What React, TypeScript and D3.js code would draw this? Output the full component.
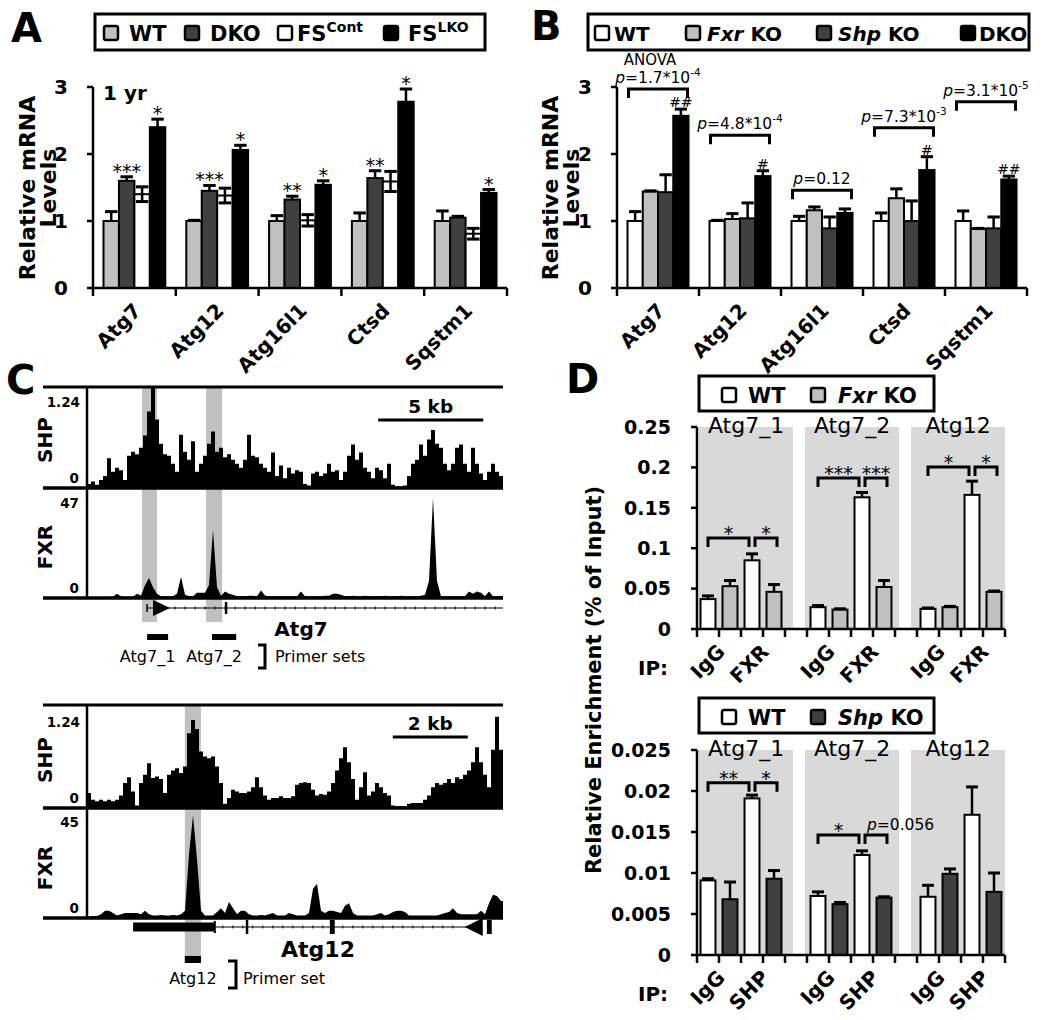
import React from "react";
import * as d3 from "d3";

const FONT = "'DejaVu Sans', Verdana, sans-serif";
const LIGHT = "#c0c0c0";
const DARK = "#404040";
const PANEL_BG = "#d9d9d9";

// ---------------- Panel A ----------------
const genes = ["Atg7", "Atg12", "Atg16l1", "Ctsd", "Sqstm1"];
const abTicks = [0, 1, 2, 3];
const aWT = [1.0, 1.0, 1.0, 1.0, 1.0];
const aWTErr = [0.14, 0.01, 0.08, 0.12, 0.15];
const aDKO = [1.6, 1.45, 1.32, 1.64, 1.05];
const aDKOErr = [0.06, 0.08, 0.05, 0.11, 0.02];
const aFSCont = [1.4, 1.38, 1.01, 1.59, 0.81];
const aFSContErr = [0.11, 0.11, 0.085, 0.15, 0.08];
const aFSLKO = [2.4, 2.06, 1.54, 2.78, 1.42];
const aFSLKOErr = [0.12, 0.07, 0.06, 0.19, 0.05];
const aDKOSig = ["***", "***", "**", "**", ""];
const aFSLKOSig = ["*", "*", "*", "*", "*"];

// ---------------- Panel B ----------------
const bWT = [1.0, 1.0, 1.0, 1.0, 1.0];
const bWTErr = [0.14, 0.01, 0.07, 0.12, 0.15];
const bFxr = [1.44, 1.03, 1.16, 1.34, 0.88];
const bFxrErr = [0.01, 0.08, 0.05, 0.14, 0.01];
const bShp = [1.43, 1.04, 0.89, 1.0, 0.89];
const bShpErr = [0.26, 0.23, 0.17, 0.3, 0.17];
const bDKO = [2.57, 1.67, 1.12, 1.76, 1.62];
const bDKOErr = [0.1, 0.08, 0.06, 0.2, 0.05];
const bDKOSig = ["##", "#", "", "#", "##"];
const bPBase = ["1.7*10", "4.8*10", "0.12", "7.3*10", "3.1*10"];
const bPExp = ["-4", "-4", "", "-3", "-5"];
const bBracket = [2.97, 2.28, 1.46, 2.39, 2.78];

// ---------------- Panel C (coverage, binned) ----------------
const shpAtg7 = [
  0.05, 0.08, 0.04, 0.1, 0.15, 0.37, 0.2, 0.25, 0.22, 0.1,
  0.4, 0.45, 0.42, 0.5, 0.65, 0.95, 1.24, 0.85, 0.55, 0.42,
  0.4, 0.3, 0.2, 0.66, 0.45, 0.35, 0.58, 0.2, 0.3, 0.4,
  0.55, 0.7, 0.45, 0.5, 0.38, 0.42, 0.35, 0.3, 0.25, 0.35,
  0.66, 0.4, 0.38, 0.3, 0.25, 0.2, 0.44, 0.15, 0.28, 0.12,
  0.25, 0.18, 0.22, 0.2, 0.05, 0.03, 0.18, 0.2, 0.15, 0.18,
  0.3, 0.2, 0.22, 0.1, 0.2, 0.4, 0.54, 0.35, 0.44, 0.25,
  0.2, 0.12, 0.25, 0.22, 0.12, 0.3, 0.04, 0.02, 0.02, 0.03,
  0.15, 0.3, 0.35, 0.54, 0.4, 0.6, 0.72, 0.55, 0.5, 0.3,
  0.22, 0.3, 0.5, 0.54, 0.3, 0.2, 0.5, 0.3, 0.18, 0.1,
  0.2, 0.3, 0.2, 0.15,
];
const fxrAtg7 = [
  0.5, 0.5, 0.5, 0.5, 0.5, 0.6, 0.6, 2, 0.8, 0.6,
  0.6, 0.6, 2, 1, 6, 9.4, 5, 2, 0.8, 0.8,
  0.8, 0.8, 2, 10, 1.5, 0.8, 0.8, 2.5, 2.5, 2.5,
  6, 32, 5, 1, 3, 2, 1.5, 0.8, 0.8, 0.8,
  1, 1, 0.8, 3.5, 1.2, 0.8, 0.8, 0.8, 0.8, 0.8,
  0.8, 0.8, 0.8, 3, 0.8, 0.8, 0.8, 0.8, 0.8, 1,
  1, 2, 2, 1.5, 0.8, 0.8, 1, 0.8, 0.8, 1,
  0.8, 0.8, 0.8, 0.8, 1, 0.8, 0.8, 0.8, 1, 0.8,
  0.8, 0.8, 0.8, 1, 1.5, 8, 47, 8, 0.8, 0.8,
  0.8, 0.8, 0.8, 0.8, 0.8, 3, 2, 3, 2.5, 0.8,
  3, 0.8, 0.8, 0.8,
];
const shpAtg12 = [
  0.18, 0.1, 0.08, 0.1, 0.08, 0.1, 0.08, 0.1, 0.15, 0.3,
  0.37, 0.2, 0.03, 0.3, 0.4, 0.54, 0.36, 0.38, 0.35, 0.18,
  0.4, 0.45, 0.48, 0.42, 0.5, 0.9, 1.06, 0.95, 0.68, 0.62,
  0.6, 0.62, 0.5, 0.3, 0.05, 0.12, 0.22, 0.2, 0.18, 0.18,
  0.2, 0.25, 0.37, 0.25, 0.15, 0.1, 0.12, 0.12, 0.14, 0.12,
  0.12, 0.14, 0.28, 0.3, 0.31, 0.3, 0.22, 0.15, 0.17, 0.16,
  0.2, 0.3, 0.45, 0.6, 0.73, 0.55, 0.35, 0.1, 0.25, 0.43,
  0.15, 0.2, 0.3, 0.25, 0.18, 0.15, 0.03, 0.02, 0.02, 0.02,
  0.05, 0.06, 0.06, 0.06, 0.1, 0.15, 0.25, 0.3, 0.28, 0.3,
  0.35, 0.3, 0.37, 0.35, 0.4, 0.45, 0.55, 0.73, 0.55, 0.4,
  0.25, 0.7, 1.1, 0.7,
];
const fxrAtg12 = [
  0.5, 0.8, 0.8, 1.5, 3, 3, 2, 1, 1.5, 2,
  2, 2, 2, 1.5, 3, 1.5, 1, 1, 1.2, 1,
  1, 1.2, 1, 1.5, 3, 26, 42, 24, 3, 1,
  1, 1, 2.5, 4, 2, 6.5, 4, 1.5, 3, 3,
  1.5, 1, 1, 1.2, 1, 1.5, 2, 1, 1, 1,
  2, 1.5, 1, 1, 1, 2, 12, 14, 3, 2,
  3, 3, 2.5, 2, 5, 6, 2, 1, 1, 1,
  1, 1, 1.5, 2, 1, 1.5, 2.5, 3, 3, 2.5,
  1, 1, 1, 1, 1, 1, 1, 1, 1.5, 2,
  2.5, 4, 2, 1.5, 1.5, 1.5, 1.5, 1.5, 3, 1.5,
  6, 9.5, 9, 7,
];
// genomic features (kb from window start)
const atg7WindowKb = 19.8;
const atg7Bands = [[2.62, 3.33], [5.67, 6.43]];
const atg7Primers = [[2.86, 3.86], [5.95, 7.1]];
const atg7PrimerNames = ["Atg7_1", "Atg7_2"];
const atg7Tss = 2.86;
const atg7Exons = [6.62];
const atg7Scale = [13.86, 18.86];
const atg12WindowKb = 11.1;
const atg12Bands = [[2.61, 3.04]];
const atg12Primers = [[2.61, 3.04]];
const atg12Utr = [1.23, 3.41];
const atg12ExonTicks = [4.27];
const atg12Exons = [[6.48, 6.61]];
const atg12Arrow = [10.08, 10.56];
const atg12FirstExon = [10.67, 10.8];
const atg12Scale = [8.16, 10.16];

// ---------------- Panel D ----------------
const dGroups = ["Atg7_1", "Atg7_2", "Atg12"];
const dTopTicks = [0, 0.05, 0.1, 0.15, 0.2, 0.25];
const dTopWTIgG = [0.037, 0.027, 0.025];
const dTopWTIgGErr = [0.004, 0.002, 0.001];
const dTopKOIgG = [0.053, 0.024, 0.027];
const dTopKOIgGErr = [0.007, 0.001, 0.001];
const dTopWTFXR = [0.085, 0.163, 0.166];
const dTopWTFXRErr = [0.008, 0.006, 0.017];
const dTopKOFXR = [0.046, 0.052, 0.046];
const dTopKOFXRErr = [0.009, 0.008, 0.001];
const dTopBrk = [0.1126, 0.187, 0.2005];
const dTopBrkL = ["*", "***", "*"];
const dTopBrkR = ["*", "***", "*"];

const dBotTicks = [0, 0.005, 0.01, 0.015, 0.02, 0.025];
const dBotWTIgG = [0.0091, 0.0072, 0.0071];
const dBotWTIgGErr = [0.0002, 0.0005, 0.0014];
const dBotKOIgG = [0.0068, 0.0062, 0.0099];
const dBotKOIgGErr = [0.0021, 0.0002, 0.0006];
const dBotWTSHP = [0.0191, 0.0122, 0.0171];
const dBotWTSHPErr = [0.0004, 0.0005, 0.0034];
const dBotKOSHP = [0.0093, 0.007, 0.0077];
const dBotKOSHPErr = [0.001, 0.0001, 0.0023];
const dBotBrk = [0.021, 0.01463, null];
const dBotBrkL = ["**", "*", ""];
const dBotBrkR = ["*", "p=0.056", ""];

// ============================================================

function Legend({ x, y, w, h, items, baseline, fontSize }) {
  return (
    <g>
      <rect x={x} y={y} width={w} height={h} fill="#fff" stroke="#000" strokeWidth={3} />
      {items.map((it, i) => (
        <g key={i}>
          <rect x={it.sx} y={baseline - 15} width={14} height={14} rx={2} fill={it.fill} stroke="#000" strokeWidth={2.5} />
          <text x={it.tx} y={baseline} fontSize={fontSize} fontWeight="bold">{it.label}</text>
        </g>
      ))}
    </g>
  );
}

function PValue({ x, y, base, exp, anchor = "middle", size = 15.5 }) {
  return (
    <text x={x} y={y} fontSize={size} textAnchor={anchor}>
      <tspan fontStyle="italic">p</tspan>
      {"=" + base}
      {exp ? <tspan dy={-7} fontSize={size * 0.68}>{exp}</tspan> : null}
    </text>
  );
}

function ABPanel({ xL, xR, series, yTitleX, extra }) {
  const y0 = 288;
  const y = d3.scaleLinear().domain([0, 3]).range([y0, 87]);
  const gx = d3.scaleBand().domain(genes).range([xL, xR]);
  const bw = gx.bandwidth();
  const ix = d3.scaleBand().domain(series.map((_, i) => String(i))).range([10.5, bw - 10.5]);
  const w = ix.bandwidth();
  const capW = w - 3;
  const els = [];
  series.forEach((s, si) => {
    genes.forEach((g, gi) => {
      const x = gx(g) + ix(String(si));
      const v = s.vals[gi];
      els.push(
        <rect key={`b${si}-${gi}`} x={x} y={y(v)} width={w} height={y(0) - y(v)} fill={s.fill} stroke="#000" strokeWidth={2} />
      );
    });
  });
  series.forEach((s, si) => {
    genes.forEach((g, gi) => {
      const cx = gx(g) + ix(String(si)) + w / 2;
      const v = s.vals[gi];
      const e = s.errs[gi];
      const yt = y(v + e);
      const yb = s.both ? y(v - e) : y(v);
      els.push(
        <g key={`e${si}-${gi}`} stroke="#000">
          <line x1={cx} x2={cx} y1={yb} y2={yt} strokeWidth={2.5} />
          <line x1={cx - capW / 2} x2={cx + capW / 2} y1={yt} y2={yt} strokeWidth={3} />
          {s.both ? <line x1={cx - capW / 2} x2={cx + capW / 2} y1={yb} y2={yb} strokeWidth={3} /> : null}
        </g>
      );
      if (s.sig && s.sig[gi]) {
        const isHash = s.sig[gi].includes("#");
        els.push(
          <text key={`s${si}-${gi}`} x={cx} y={isHash ? yt - 2 : yt + 1} textAnchor="middle" fontSize={isHash ? 14 : 19}>
            {s.sig[gi]}
          </text>
        );
      }
    });
  });
  return (
    <g>
      {els}
      <g stroke="#000" strokeWidth={2.5}>
        <line x1={xL} x2={xL} y1={y(0)} y2={y(3)} />
        {abTicks.map((t) => (
          <line key={t} x1={xL - 6} x2={xL} y1={y(t)} y2={y(t)} />
        ))}
        <line x1={xL} x2={xR} y1={y(0)} y2={y(0)} />
        {d3.range(genes.length + 1).map((i) => (
          <line key={i} x1={xL + i * bw} x2={xL + i * bw} y1={y(0)} y2={y(0) + 8} />
        ))}
      </g>
      {abTicks.map((t) => (
        <text key={t} x={xL - 25} y={y(t)} dy="0.36em" textAnchor="end" fontSize={20} fontWeight="bold">{t}</text>
      ))}
      {genes.map((g) => (
        <text key={g} transform={`translate(${gx(g) + bw / 2 + 8},${y0 + 24}) rotate(-45)`} textAnchor="end" fontSize={20} fontWeight="bold">
          {g}
        </text>
      ))}
      <text transform={`translate(${yTitleX},188) rotate(-90)`} textAnchor="middle" fontSize={22} fontWeight="bold">Relative mRNA</text>
      <text transform={`translate(${yTitleX + 21},188) rotate(-90)`} textAnchor="middle" fontSize={22} fontWeight="bold">Levels</text>
      {extra ? extra({ gx, ix, w, y }) : null}
    </g>
  );
}

function PanelA() {
  const series = [
    { vals: aWT, errs: aWTErr, fill: LIGHT },
    { vals: aDKO, errs: aDKOErr, fill: DARK, sig: aDKOSig },
    { vals: aFSCont, errs: aFSContErr, fill: "#fff", both: true },
    { vals: aFSLKO, errs: aFSLKOErr, fill: "#000", sig: aFSLKOSig },
  ];
  return (
    <g>
      <text x={11} y={42} fontSize={40} fontWeight="bold">A</text>
      <Legend
        x={95} y={14} w={390} h={36} baseline={41} fontSize={21}
        items={[
          { sx: 104, fill: LIGHT, tx: 129, label: "WT" },
          { sx: 185, fill: DARK, tx: 210, label: "DKO" },
          { sx: 278, fill: "#fff", tx: 297, label: <>FS<tspan dy={-9} fontSize={14}>Cont</tspan></> },
          { sx: 384, fill: "#000", tx: 408, label: <>FS<tspan dy={-9} fontSize={14}>LKO</tspan></> },
        ]}
      />
      <text x={103} y={100} fontSize={20} fontWeight="bold">1 yr</text>
      <ABPanel xL={93} xR={507} series={series} yTitleX={35} />
    </g>
  );
}

function PanelB() {
  const series = [
    { vals: bWT, errs: bWTErr, fill: "#fff" },
    { vals: bFxr, errs: bFxrErr, fill: LIGHT },
    { vals: bShp, errs: bShpErr, fill: DARK },
    { vals: bDKO, errs: bDKOErr, fill: "#000", sig: bDKOSig },
  ];
  const extra = ({ gx, ix, w, y }) => (
    <g>
      {genes.map((g, gi) => {
        const x1 = gx(g) + ix("0") + 1;
        const x2 = gx(g) + ix("3") + w - 1;
        const yb = y(bBracket[gi]);
        return (
          <g key={g}>
            <path d={`M${x1},${yb + 9}V${yb}H${x2}V${yb + 9}`} fill="none" stroke="#000" strokeWidth={3} />
            <PValue x={(x1 + x2) / 2} y={yb - 6} base={bPBase[gi]} exp={bPExp[gi]} />
            {gi === 0 ? (
              <text x={(x1 + x2) / 2 - 8} y={yb - 24} textAnchor="middle" fontSize={15}>ANOVA</text>
            ) : null}
          </g>
        );
      })}
    </g>
  );
  return (
    <g>
      <text x={531} y={40} fontSize={40} fontWeight="bold">B</text>
      <Legend
        x={588} y={14} w={441} h={36} baseline={41} fontSize={20}
        items={[
          { sx: 595, fill: "#fff", tx: 614, label: "WT" },
          { sx: 686, fill: LIGHT, tx: 707, label: <><tspan fontStyle="italic">Fxr</tspan> KO</> },
          { sx: 817, fill: DARK, tx: 838, label: <><tspan fontStyle="italic">Shp</tspan> KO</> },
          { sx: 961, fill: "#000", tx: 979, label: "DKO" },
        ]}
      />
      <ABPanel xL={617} xR={1027} series={series} yTitleX={558} extra={extra} />
    </g>
  );
}

function Coverage({ vals, yBase, yTop, max, step }) {
  const x = d3.scaleLinear().domain([0, vals.length]).range([87, 503]);
  const y = d3.scaleLinear().domain([0, max]).range([yBase, yTop]);
  let pts;
  if (step) {
    pts = vals.map((v, i) => [i, v]).concat([[vals.length, vals[vals.length - 1]]]);
  } else {
    pts = [[0, vals[0]]].concat(vals.map((v, i) => [i + 0.5, v])).concat([[vals.length, vals[vals.length - 1]]]);
  }
  const area = d3
    .area()
    .x((d) => x(d[0]))
    .y0(yBase)
    .y1((d) => y(d[1]))
    .curve(step ? d3.curveStepAfter : d3.curveLinear);
  return <path d={area(pts)} fill="#000" />;
}

function TrackFrame({ top, shpBase, fxrBase, shpMaxLabel, fxrMaxLabel, shpLabelY, fxrLabelY, shpMaxY, fxrMaxY }) {
  return (
    <g>
      <g stroke="#000">
        <line x1={43} x2={503} y1={top} y2={top} strokeWidth={3} />
        <line x1={43} x2={503} y1={shpBase} y2={shpBase} strokeWidth={3.5} />
        <line x1={43} x2={503} y1={fxrBase} y2={fxrBase} strokeWidth={3.5} />
        <line x1={87} x2={87} y1={top} y2={fxrBase} strokeWidth={2.5} />
      </g>
      <text x={80} y={shpMaxY} textAnchor="end" fontSize={13.5} fontWeight="bold">{shpMaxLabel}</text>
      <text x={79} y={shpBase - 5} textAnchor="end" fontSize={13.5} fontWeight="bold">0</text>
      <text x={79} y={fxrMaxY} textAnchor="end" fontSize={13.5} fontWeight="bold">{fxrMaxLabel}</text>
      <text x={79} y={fxrBase - 5} textAnchor="end" fontSize={13.5} fontWeight="bold">0</text>
      <text transform={`translate(52,${shpLabelY}) rotate(-90)`} textAnchor="middle" fontSize={20} fontWeight="bold">SHP</text>
      <text transform={`translate(52,${fxrLabelY}) rotate(-90)`} textAnchor="middle" fontSize={20} fontWeight="bold">FXR</text>
    </g>
  );
}

function PanelC() {
  const k1 = d3.scaleLinear().domain([0, atg7WindowKb]).range([87, 503]);
  const geneY1 = 608;
  const k2 = d3.scaleLinear().domain([0, atg12WindowKb]).range([87, 503]);
  const geneY2 = 927;
  const intron1 = d3.range(k1(atg7Tss) + 28, 503, 10);
  const intron2 = d3.range(k2(atg12Utr[1]) + 8, k2(atg12Arrow[0]) - 4, 10);
  return (
    <g>
      <text x={6} y={394} fontSize={40} fontWeight="bold">C</text>
      {atg7Bands.map((b, i) => (
        <rect key={i} x={k1(b[0])} y={387} width={k1(b[1]) - k1(b[0])} height={235} fill={LIGHT} />
      ))}
      <Coverage vals={shpAtg7} yBase={488} yTop={388} max={1.24} step />
      <Coverage vals={fxrAtg7} yBase={598} yTop={498} max={47} />
      <TrackFrame top={387} shpBase={488} fxrBase={598} shpMaxLabel="1.24" fxrMaxLabel="47"
        shpLabelY={440} fxrLabelY={547} shpMaxY={407} fxrMaxY={508} />
      <line x1={k1(atg7Scale[0])} x2={k1(atg7Scale[1])} y1={420} y2={420} stroke="#000" strokeWidth={3} />
      <text x={(k1(atg7Scale[0]) + k1(atg7Scale[1])) / 2} y={413} textAnchor="middle" fontSize={18.5} fontWeight="bold">5 kb</text>
      <g stroke="#000">
        <line x1={k1(atg7Tss)} x2={503} y1={geneY1} y2={geneY1} strokeWidth={1.2} />
        {intron1.map((x) => (
          <line key={x} x1={x} x2={x} y1={geneY1 - 1.5} y2={geneY1 + 1.5} strokeWidth={1} />
        ))}
        <line x1={k1(atg7Tss)} x2={k1(atg7Tss)} y1={geneY1 - 4} y2={geneY1 + 4} strokeWidth={1.5} />
        {atg7Exons.map((e) => (
          <line key={e} x1={k1(e)} x2={k1(e)} y1={geneY1 - 6} y2={geneY1 + 6} strokeWidth={2.5} />
        ))}
      </g>
      <path d={`M${k1(atg7Tss) + 6},${geneY1 - 8}L${k1(atg7Tss) + 23},${geneY1}L${k1(atg7Tss) + 6},${geneY1 + 8}Z`} fill="#000" />
      <text x={301} y={636} textAnchor="middle" fontSize={20} fontWeight="bold">Atg7</text>
      {atg7Primers.map((p, i) => (
        <g key={i}>
          <rect x={k1(p[0])} y={634} width={k1(p[1]) - k1(p[0])} height={6} fill="#000" />
          <text x={(k1(p[0]) + k1(p[1])) / 2 - 10} y={662} textAnchor="middle" fontSize={16}>{atg7PrimerNames[i]}</text>
        </g>
      ))}
      <path d="M258,645H265V668H258" fill="none" stroke="#000" strokeWidth={3} />
      <text x={275} y={662} fontSize={16}>Primer sets</text>

      {atg12Bands.map((b, i) => (
        <rect key={i} x={k2(b[0])} y={705} width={k2(b[1]) - k2(b[0])} height={257} fill={LIGHT} />
      ))}
      <Coverage vals={shpAtg12} yBase={808} yTop={705} max={1.24} step />
      <Coverage vals={fxrAtg12} yBase={918} yTop={808} max={45} />
      <TrackFrame top={705} shpBase={808} fxrBase={918} shpMaxLabel="1.24" fxrMaxLabel="45"
        shpLabelY={760} fxrLabelY={868} shpMaxY={727} fxrMaxY={827} />
      <line x1={k2(atg12Scale[0])} x2={k2(atg12Scale[1])} y1={737} y2={737} stroke="#000" strokeWidth={3} />
      <text x={(k2(atg12Scale[0]) + k2(atg12Scale[1])) / 2} y={730} textAnchor="middle" fontSize={18.5} fontWeight="bold">2 kb</text>
      <g stroke="#000">
        <line x1={k2(atg12Utr[1])} x2={k2(atg12Arrow[1])} y1={geneY2} y2={geneY2} strokeWidth={1.2} />
        {intron2.map((x) => (
          <line key={x} x1={x} x2={x} y1={geneY2 - 1.5} y2={geneY2 + 1.5} strokeWidth={1} />
        ))}
        <line x1={k2(atg12Utr[1])} x2={k2(atg12Utr[1])} y1={geneY2 - 6} y2={geneY2 + 6} strokeWidth={2} />
        {atg12ExonTicks.map((e) => (
          <line key={e} x1={k2(e)} x2={k2(e)} y1={geneY2 - 7} y2={geneY2 + 7} strokeWidth={2.5} />
        ))}
      </g>
      <rect x={k2(atg12Utr[0])} y={geneY2 - 4.5} width={k2(atg12Utr[1]) - k2(atg12Utr[0])} height={9} fill="#000" />
      {atg12Exons.map((e, i) => (
        <rect key={i} x={k2(e[0])} y={geneY2 - 7} width={k2(e[1]) - k2(e[0])} height={14} fill="#000" />
      ))}
      <path d={`M${k2(atg12Arrow[0])},${geneY2}L${k2(atg12Arrow[1])},${geneY2 - 9}L${k2(atg12Arrow[1])},${geneY2 + 9}Z`} fill="#000" />
      <rect x={k2(atg12FirstExon[0])} y={geneY2 - 7} width={k2(atg12FirstExon[1]) - k2(atg12FirstExon[0])} height={14} fill="#000" />
      <text x={318} y={957} textAnchor="middle" fontSize={22} fontWeight="bold">Atg12</text>
      {atg12Primers.map((p, i) => (
        <g key={i}>
          <rect x={k2(p[0])} y={956} width={k2(p[1]) - k2(p[0])} height={7} fill="#000" />
          <text x={(k2(p[0]) + k2(p[1])) / 2} y={984} textAnchor="middle" fontSize={16}>Atg12</text>
        </g>
      ))}
      <path d="M228,961H236V988H228" fill="none" stroke="#000" strokeWidth={3} />
      <text x={243} y={984} fontSize={16}>Primer set</text>
    </g>
  );
}

function DPanel({ y0, yMax, max, ticks, tickFmt, wtI, wtIe, koI, koIe, wtF, wtFe, koF, koFe, koFill, ipName, legendY, legendLabel, brk, brkL, brkR }) {
  const y = d3.scaleLinear().domain([0, max]).range([y0, yMax]);
  const xL = 697;
  const xR = 1005;
  const slots = d3.scaleBand().domain(d3.range(14).map(String)).range([xL, xR]).paddingInner(0.32).paddingOuter(0.16);
  const step = slots.step();
  const w = slots.bandwidth();
  const capW = w - 3;
  const bgW = (xR - 699 - 24) / 3;
  const cx = (g, p) => slots(String(g * 5 + p)) + w / 2;
  const groupsData = dGroups.map((name, g) => [
    { v: wtI[g], e: wtIe[g], fill: "#fff", p: 0 },
    { v: koI[g], e: koIe[g], fill: koFill, p: 1 },
    { v: wtF[g], e: wtFe[g], fill: "#fff", p: 2 },
    { v: koF[g], e: koFe[g], fill: koFill, p: 3 },
  ]);
  return (
    <g>
      {dGroups.map((name, g) => (
        <rect key={name} x={699 + g * (bgW + 12)} y={yMax} width={bgW} height={y0 - yMax} fill={PANEL_BG} />
      ))}
      {dGroups.map((name, g) => (
        <text key={name} x={699 + g * (bgW + 12) + bgW / 2} y={yMax + 6} textAnchor="middle" fontSize={22}>{name}</text>
      ))}
      {groupsData.map((bars, g) =>
        bars.map((b) => {
          const x = slots(String(g * 5 + b.p));
          const c = x + w / 2;
          const yt = y(b.v + b.e);
          return (
            <g key={`${g}-${b.p}`}>
              <rect x={x} y={y(b.v)} width={w} height={y(0) - y(b.v)} fill={b.fill} stroke="#000" strokeWidth={2} />
              <line x1={c} x2={c} y1={y(b.v)} y2={yt} stroke="#000" strokeWidth={2.5} />
              <line x1={c - capW / 2} x2={c + capW / 2} y1={yt} y2={yt} stroke="#000" strokeWidth={3} />
            </g>
          );
        })
      )}
      {dGroups.map((name, g) => {
        if (brk[g] == null) return null;
        const yb = y(brk[g]);
        const a1 = cx(g, 0);
        const a2 = cx(g, 2) - 3;
        const b1 = cx(g, 2) + 3;
        const b2 = cx(g, 3) + 3;
        const rIsP = brkR[g].startsWith("p=");
        return (
          <g key={name}>
            <path d={`M${a1},${yb + 9}V${yb}H${a2}V${yb + 9}`} fill="none" stroke="#000" strokeWidth={3} />
            <path d={`M${b1},${yb + 9}V${yb}H${b2}V${yb + 9}`} fill="none" stroke="#000" strokeWidth={3} />
            <text x={(a1 + a2) / 2} y={yb + 2} textAnchor="middle" fontSize={19}>{brkL[g]}</text>
            {rIsP ? (
              <PValue x={b1 + 2} y={yb - 5} base={brkR[g].slice(2)} exp="" anchor="start" size={15.5} />
            ) : (
              <text x={(b1 + b2) / 2} y={yb + 2} textAnchor="middle" fontSize={19}>{brkR[g]}</text>
            )}
          </g>
        );
      })}
      <g stroke="#000" strokeWidth={2.5}>
        <line x1={xL} x2={xL} y1={y(0)} y2={y(max)} />
        {ticks.map((t) => (
          <line key={t} x1={xL - 6} x2={xL} y1={y(t)} y2={y(t)} />
        ))}
        <line x1={xL} x2={xR} y1={y(0)} y2={y(0)} />
        {d3.range(15).map((k) => (
          <line key={k} x1={xL + k * step} x2={xL + k * step} y1={y(0)} y2={y(0) + 8} />
        ))}
      </g>
      {ticks.map((t) => (
        <text key={t} x={671} y={y(t)} dy="0.36em" textAnchor="end" fontSize={19} fontWeight="bold">{tickFmt(t)}</text>
      ))}
      {dGroups.map((name, g) =>
        ["IgG", ipName].map((lab, k) => {
          const pc = (cx(g, 2 * k) + cx(g, 2 * k + 1)) / 2;
          return (
            <text key={`${name}-${lab}`} transform={`translate(${pc + 7},${y0 + 24}) rotate(-45)`} textAnchor="end" fontSize={20} fontWeight="bold">
              {lab}
            </text>
          );
        })
      )}
      <text x={638} y={y0 + 46} fontSize={20} fontWeight="bold">IP:</text>
      <Legend
        x={699} y={legendY} w={235} h={35} baseline={legendY + 27} fontSize={21}
        items={[
          { sx: 722, fill: "#fff", tx: 748, label: "WT" },
          { sx: 811, fill: koFill, tx: 838, label: legendLabel },
        ]}
      />
    </g>
  );
}

function PanelD() {
  const fmt = (t) => (t === 0 ? "0" : String(+t.toFixed(3)));
  return (
    <g>
      <text x={566} y={393} fontSize={40} fontWeight="bold">D</text>
      <DPanel
        y0={629} yMax={427} max={0.25} ticks={dTopTicks} tickFmt={fmt}
        wtI={dTopWTIgG} wtIe={dTopWTIgGErr} koI={dTopKOIgG} koIe={dTopKOIgGErr}
        wtF={dTopWTFXR} wtFe={dTopWTFXRErr} koF={dTopKOFXR} koFe={dTopKOFXRErr}
        koFill={LIGHT} ipName="FXR" legendY={376}
        legendLabel={<><tspan fontStyle="italic">Fxr</tspan> KO</>}
        brk={dTopBrk} brkL={dTopBrkL} brkR={dTopBrkR}
      />
      <DPanel
        y0={955} yMax={750} max={0.025} ticks={dBotTicks} tickFmt={fmt}
        wtI={dBotWTIgG} wtIe={dBotWTIgGErr} koI={dBotKOIgG} koIe={dBotKOIgGErr}
        wtF={dBotWTSHP} wtFe={dBotWTSHPErr} koF={dBotKOSHP} koFe={dBotKOSHPErr}
        koFill={DARK} ipName="SHP" legendY={698}
        legendLabel={<><tspan fontStyle="italic">Shp</tspan> KO</>}
        brk={dBotBrk} brkL={dBotBrkL} brkR={dBotBrkR}
      />
      <text transform="translate(601,680) rotate(-90)" textAnchor="middle" fontSize={21} fontWeight="bold">Relative Enrichment (% of Input)</text>
    </g>
  );
}

export default function App() {
  return (
    <svg
      xmlns="http://www.w3.org/2000/svg"
      width={1050}
      height={1020}
      viewBox="0 0 1050 1020"
      style={{ position: "absolute", left: 0, top: 0, display: "block" }}
      fontFamily={FONT}
    >
      <rect x={0} y={0} width={1050} height={1020} fill="#fff" />
      <PanelA />
      <PanelB />
      <PanelC />
      <PanelD />
    </svg>
  );
}
